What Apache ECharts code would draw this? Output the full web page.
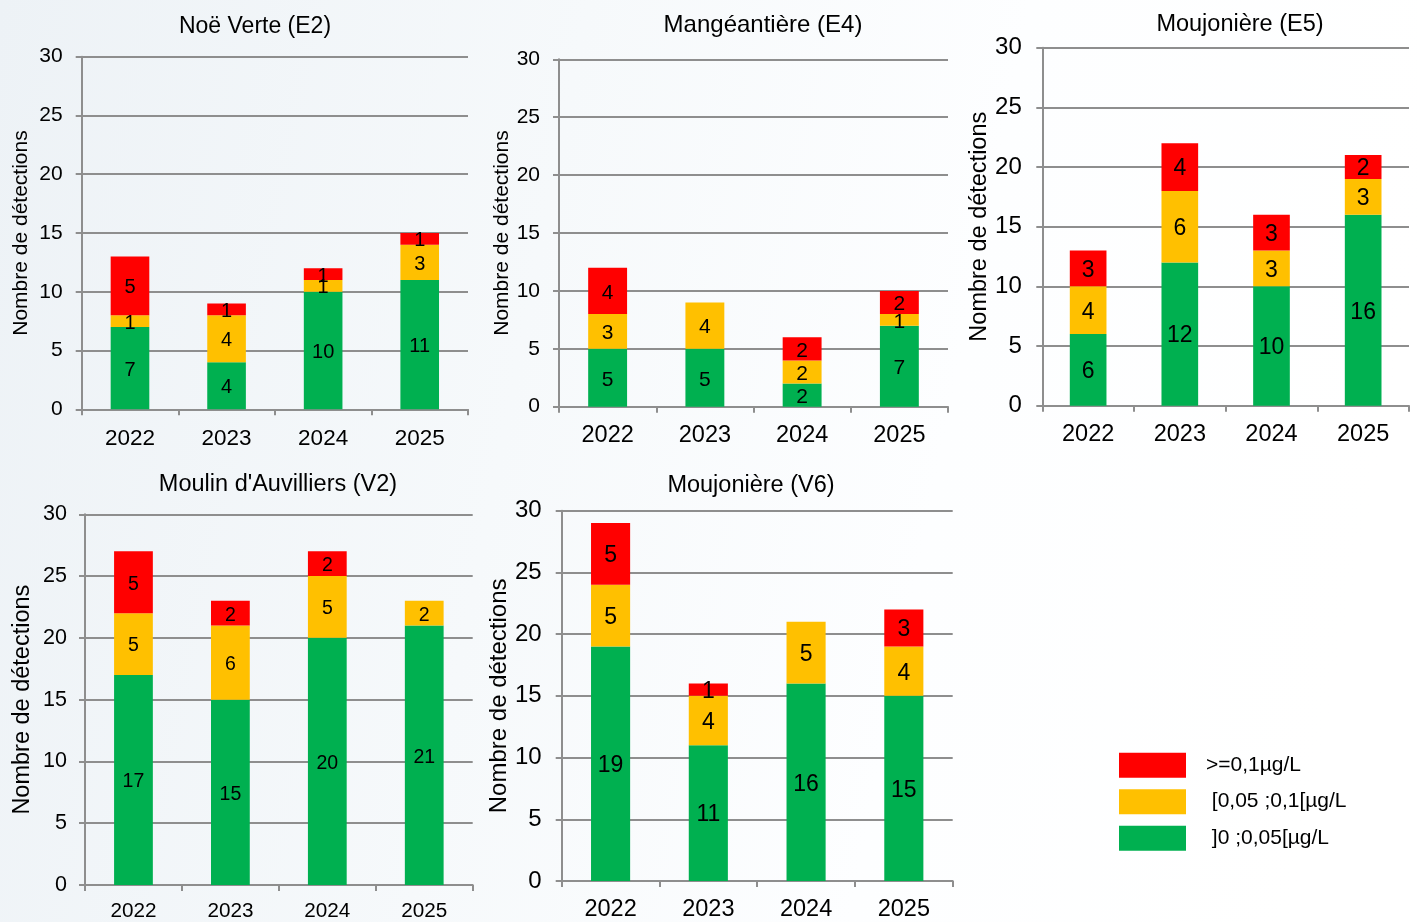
<!DOCTYPE html>
<html>
<head>
<meta charset="utf-8">
<title>Nombre de détections par station</title>
<script src="https://cdn.jsdelivr.net/npm/echarts@6/dist/echarts.min.js"></script>
<style>
  html, body { margin: 0; padding: 0; }
  #chart { width: 1418px; height: 922px; }
</style>
</head>
<body>
<div id="chart"></div>
<script>
// Years on the x axis
const years = ['2022', '2023', '2024', '2025'];

// Class names (legend order: top to bottom)
const classHigh = '>=0,1µg/L';
const classMid = '[0,05 ;0,1[µg/L';
const classLow = ']0 ;0,05[µg/L';

// Station titles
const stationNames = ['Noë Verte (E2)', 'Mangéantière (E4)', 'Moujonière (E5)', "Moulin d'Auvilliers (V2)", 'Moujonière (V6)'];

// Detections per station and class (null = no detection)
const e2Low = [7, 4, 10, 11];
const e2Mid = [1, 4, 1, 3];
const e2High = [5, 1, 1, 1];

const e4Low = [5, 5, 2, 7];
const e4Mid = [3, 4, 2, 1];
const e4High = [4, null, 2, 2];

const e5Low = [6, 12, 10, 16];
const e5Mid = [4, 6, 3, 3];
const e5High = [3, 4, 3, 2];

const v2Low = [17, 15, 20, 21];
const v2Mid = [5, 6, 5, 2];
const v2High = [5, 2, 2, null];

const v6Low = [19, 11, 16, 15];
const v6Mid = [5, 4, 5, 4];
const v6High = [5, 1, null, 3];

// Y axis scale
const yMin = 0;
const yMax = 30;
const yStep = 5;

const stationData = [
  [e2Low, e2Mid, e2High],
  [e4Low, e4Mid, e4High],
  [e5Low, e5Mid, e5High],
  [v2Low, v2Mid, v2High],
  [v6Low, v6Mid, v6High]
];

const COLORS = { low: '#00B050', mid: '#FFC000', high: '#FF0000' };
const FONT = 'Arial, "Liberation Sans", sans-serif';
const AXIS_GRAY = '#8e8e8e';

// Panel geometry and font sizes
const panels = [
  { left: 81.7, top: 56.7, width: 386.3, height: 352.6, titleX: 255, titleY: 28, titleSize: 23, ySize: 21, xSize: 22.5, nameSize: 21, labelSize: 20, nameGap: 50, yMargin: 19, xMargin: 18 },
  { left: 559, top: 59.3, width: 389, height: 347.4, titleX: 763, titleY: 26.5, titleSize: 24, ySize: 21, xSize: 23.5, nameSize: 21, labelSize: 21, nameGap: 46, yMargin: 19, xMargin: 17 },
  { left: 1042.3, top: 47.7, width: 366.7, height: 358, titleX: 1240, titleY: 25, titleSize: 23.5, ySize: 24, xSize: 23.5, nameSize: 23.5, labelSize: 23, nameGap: 51, yMargin: 20.5, xMargin: 16.5 },
  { left: 85, top: 514.3, width: 387.7, height: 370.7, titleX: 278, titleY: 485, titleSize: 23.5, ySize: 21.5, xSize: 20.7, nameSize: 23.5, labelSize: 19.5, nameGap: 50, yMargin: 18, xMargin: 15.5 },
  { left: 561.7, top: 510.7, width: 391, height: 371.6, titleX: 751, titleY: 486, titleSize: 23.5, ySize: 24, xSize: 23.5, nameSize: 24, labelSize: 23, nameGap: 45, yMargin: 20, xMargin: 17 }
];

const grids = [], xAxes = [], yAxes = [], titles = [], series = [];

panels.forEach((p, i) => {
  grids.push({ left: p.left, top: p.top, width: p.width, height: p.height, containLabel: false });
  titles.push({
    text: stationNames[i], left: p.titleX, top: p.titleY - p.titleSize / 2 - 1,
    textAlign: 'center', padding: 0,
    textStyle: { fontFamily: FONT, fontSize: p.titleSize, fontWeight: 'normal', color: '#000' }
  });
  xAxes.push({
    type: 'category', gridIndex: i, data: years, boundaryGap: true,
    axisLine: { lineStyle: { color: AXIS_GRAY, width: 2 } },
    axisTick: { show: true, length: 6, alignWithLabel: false, lineStyle: { color: AXIS_GRAY, width: 2 } },
    axisLabel: { fontFamily: FONT, fontSize: p.xSize, color: '#000', margin: p.xMargin }
  });
  yAxes.push({
    type: 'value', gridIndex: i, min: yMin, max: yMax, interval: yStep,
    name: 'Nombre de détections', nameLocation: 'middle', nameRotate: 90, nameGap: p.nameGap,
    nameTextStyle: { fontFamily: FONT, fontSize: p.nameSize, color: '#000' },
    axisLine: { show: true, lineStyle: { color: AXIS_GRAY, width: 2 } },
    axisTick: { show: true, length: 6, lineStyle: { color: AXIS_GRAY, width: 2 } },
    splitLine: { show: true, lineStyle: { color: AXIS_GRAY, width: 2 } },
    axisLabel: { fontFamily: FONT, fontSize: p.ySize, color: '#000', margin: p.yMargin }
  });
  const [low, mid, high] = stationData[i];
  const mk = (name, data, color) => ({
    name, type: 'bar', stack: 'st' + i, xAxisIndex: i, yAxisIndex: i,
    data, barWidth: '40%',
    itemStyle: { color },
    label: {
      show: true, position: 'inside', offset: [0, 2], color: '#000', fontFamily: FONT, fontSize: p.labelSize,
      formatter: (d) => (d.value == null ? '' : d.value)
    },
    emphasis: { disabled: true }
  });
  series.push(mk(classLow, low, COLORS.low));
  series.push(mk(classMid, mid, COLORS.mid));
  series.push(mk(classHigh, high, COLORS.high));
});

const chart = echarts.init(document.getElementById('chart'), null, { renderer: 'canvas' });
chart.setOption({
  animation: false,
  backgroundColor: {
    type: 'linear', x: 0, y: 0, x2: 1, y2: 0.3,
    colorStops: [
      { offset: 0, color: '#edf2f6' },
      { offset: 0.4, color: '#f6f9fb' },
      { offset: 0.7, color: '#fdfeff' },
      { offset: 1, color: '#ffffff' }
    ]
  },
  title: titles,
  grid: grids,
  xAxis: xAxes,
  yAxis: yAxes,
  legend: {
    data: [classHigh, classMid, classLow],
    orient: 'vertical', left: 1119, top: 752.7, padding: 0,
    itemWidth: 67, itemHeight: 25, itemGap: 11.5, icon: 'rect',
    selectedMode: false,
    formatter: (name) => (name === classHigh ? name : ' ' + name),
    textStyle: { fontFamily: FONT, fontSize: 21, color: '#000', padding: [0, 0, 0, 15] }
  },
  series
});
</script>
</body>
</html>
